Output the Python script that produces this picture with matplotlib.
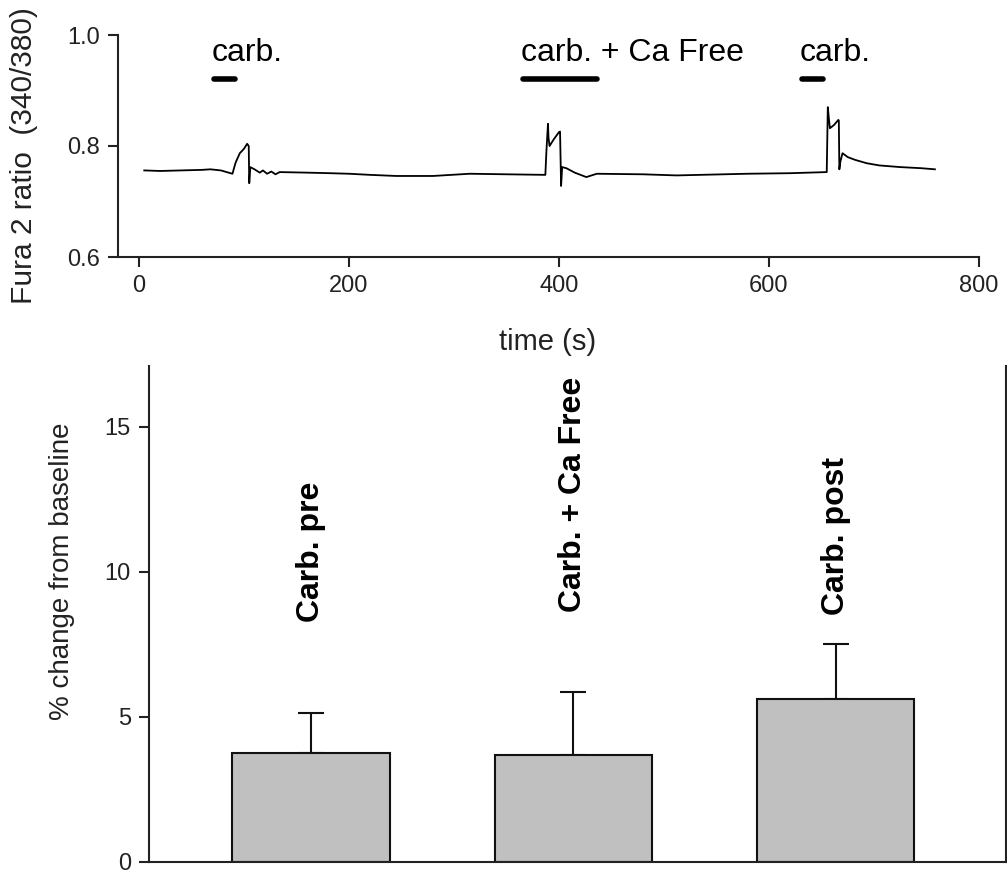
import matplotlib
matplotlib.use("Agg")
import matplotlib.pyplot as plt
import numpy as np

plt.rcParams['font.family'] = ['Liberation Sans', 'DejaVu Sans']

# ---- Top trace data (time in s, Fura-2 ratio 340/380) ----
trace_time = [5, 20, 40, 60, 68, 78, 89, 92, 96, 100, 103, 104.5, 105, 106, 110, 115, 118, 122, 126, 130, 134,
              160, 182, 200, 220, 245, 280, 315, 350, 387, 388, 389.5, 390, 391, 395, 400, 401, 402, 403,
              407, 415, 426, 436, 480, 512, 579, 620, 655, 656, 657, 658, 662, 666, 666.5, 667, 668, 670,
              675, 682, 693, 705, 725, 745, 758]
trace_ratio = [0.756, 0.755, 0.756, 0.757, 0.758, 0.756, 0.750, 0.770, 0.787, 0.795, 0.804, 0.800, 0.733, 0.762, 0.758,
               0.752, 0.756, 0.750, 0.754, 0.749, 0.753,
               0.752, 0.751, 0.750, 0.748, 0.746, 0.746, 0.750, 0.749, 0.748, 0.790, 0.840, 0.815, 0.800, 0.812, 0.825,
               0.826, 0.728, 0.762, 0.760, 0.752, 0.744, 0.750, 0.749, 0.747, 0.750, 0.751, 0.753, 0.870, 0.850,
               0.832, 0.838, 0.847, 0.846, 0.758, 0.772, 0.787, 0.780, 0.775, 0.769, 0.765, 0.762, 0.760, 0.758]

# application bars: (start, end) in s, and labels
stim_start = [71, 366, 631]
stim_end = [91, 436, 651]
stim_labels = ["carb.", "carb. + Ca Free", "carb."]

# ---- Bottom bar chart data ----
categories = ["Carb. pre", "Carb. + Ca Free", "Carb. post"]
means = [3.76, 3.69, 5.62]
sems = [1.38, 2.17, 1.90]

W, H = 1007, 874
fig = plt.figure(figsize=(W / 100, H / 100), dpi=100)

def fx(px):
    return px / W

def fy(py):
    return 1 - py / H

# Top axes
ax1 = fig.add_axes([fx(118), fy(257), fx(979 - 118), (257 - 35) / H])
ax1.plot(trace_time, trace_ratio, color='black', lw=1.3)
for s, e in zip(stim_start, stim_end):
    ax1.plot([s, e], [0.92, 0.92], color='black', lw=4, solid_capstyle='round')
for s, lab in zip(stim_start, stim_labels):
    ax1.text(s - 2, 0.968, lab, fontsize=23, ha='left', va='center')
ax1.set_xlim(-20, 800)
ax1.set_ylim(0.6, 1.0)
ax1.set_xticks([0, 200, 400, 600, 800])
ax1.set_yticks([0.6, 0.8, 1.0])
ax1.set_yticklabels(['0.6', '0.8', '1.0'])
for sp in ['top', 'right']:
    ax1.spines[sp].set_visible(False)
for sp in ['left', 'bottom']:
    ax1.spines[sp].set_linewidth(1.5)
    ax1.spines[sp].set_color('#222222')
ax1.tick_params(direction='out', length=7, width=1.5, labelsize=17, colors='#222222', pad=6)

fig.text(fx(24), fy(156), "Fura 2 ratio  (340/380)", rotation=90, fontsize=21.5,
         ha='center', va='center', color='#222222')
fig.text(fx(548), fy(342), "time (s)", fontsize=21, ha='center', va='center', color='#222222')

# Bottom axes
ax2 = fig.add_axes([fx(149), fy(862), fx(1006 - 149), (862 - 366) / H])
x = np.arange(len(categories))
ax2.bar(x, means, width=0.6, color='#c0c0c0', edgecolor='#111111', linewidth=1.5, zorder=2)
ax2.errorbar(x, means, yerr=[np.zeros(len(sems)), sems], fmt='none', ecolor='#111111',
             elinewidth=1.5, capsize=9.5, capthick=1.5, zorder=1)
label_bottom = [622, 612, 615]
for xi, lab, lb in zip(x, categories, label_bottom):
    ax2.text(xi, (862 - lb) / 29.0, lab, rotation=90, fontsize=23, fontweight='bold',
             ha='center', va='bottom')
ax2.set_xlim(-0.618, 2.65)
ax2.set_ylim(0, 17.1)
ax2.set_xticks([])
ax2.set_yticks([0, 5, 10, 15])
ax2.spines['top'].set_visible(False)
for sp in ['left', 'bottom', 'right']:
    ax2.spines[sp].set_linewidth(1.5)
    ax2.spines[sp].set_color('#222222')
ax2.tick_params(axis='y', direction='out', length=7, width=1.5, labelsize=17, colors='#222222', pad=6)

fig.text(fx(62), fy(571), "% change from baseline", rotation=90, fontsize=20,
         ha='center', va='center', color='#222222')

fig.savefig("out.png", dpi=100)
